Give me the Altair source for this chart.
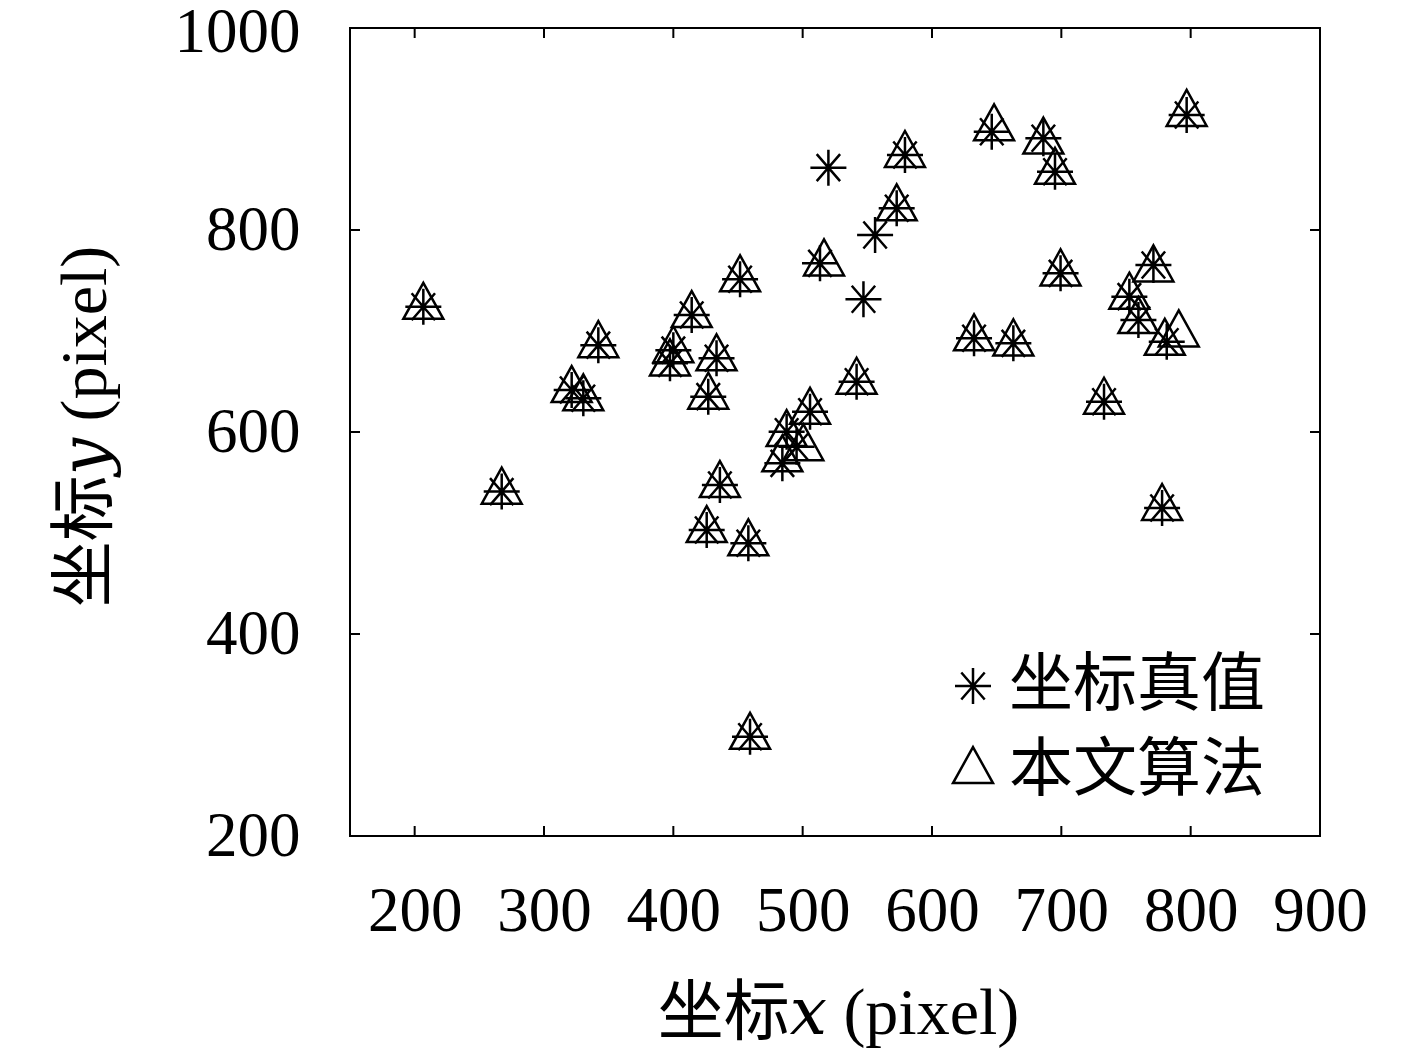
import altair as alt
import pandas as pd

# 坐标真值 (ground truth, star markers)
star_x = [206.7, 267.3, 321.4, 330.4, 342.0, 397.4, 400.0, 414.2, 433.4, 427.0,
          451.6, 436.0, 425.8, 458.0, 459.3, 519.9, 513.4, 556.0, 547.0, 572.7,
          579.1, 541.7, 505.7, 487.6, 495.3, 484.3, 646.2, 686.1, 695.1, 796.9,
          699.4, 771.2, 752.6, 759.6, 781.5, 632.5, 662.9, 733.0, 777.9]
star_y = [724.0, 541.0, 641.6, 633.4, 686.0, 668.0, 681.0, 715.8, 673.0, 635.0,
          751.2, 547.5, 503.0, 489.8, 298.3, 861.7, 767.0, 795.0, 731.4, 821.5,
          874.3, 649.8, 620.0, 600.3, 585.4, 569.0, 897.3, 890.8, 857.7, 913.9,
          757.1, 765.3, 734.0, 710.9, 689.4, 692.8, 687.8, 630.0, 524.8]

# 本文算法 (proposed algorithm, triangle markers)
tri_x = [206.7, 267.3, 321.4, 330.4, 342.0, 397.4, 400.0, 414.2, 433.4, 427.0,
         451.6, 436.0, 425.8, 458.0, 459.3, 516.5, 572.7, 579.1, 541.7, 505.7,
         487.6, 500.5, 484.3, 648.0, 686.1, 695.1, 796.9, 699.4, 771.2, 752.6,
         759.6, 780.0, 790.8, 632.5, 662.9, 733.0, 777.9]
tri_y = [724.0, 541.0, 641.6, 633.4, 686.0, 668.0, 681.0, 715.8, 673.0, 635.0,
         751.2, 547.5, 503.0, 489.8, 298.3, 767.0, 821.5, 874.3, 649.8, 620.0,
         598.0, 584.0, 573.0, 900.7, 887.6, 857.7, 915.0, 757.1, 761.0, 734.0,
         709.9, 688.4, 696.7, 692.8, 687.8, 630.0, 524.8]

series_names = ["坐标真值", "本文算法"]
x_ticks = [200, 300, 400, 500, 600, 700, 800, 900]
y_ticks = [200, 400, 600, 800, 1000]
x_domain = [150, 900]
y_domain = [200, 1000]

W, H = 970, 808
TICK = 10

STAR = "M0,-1L0,1M-1,0L1,0M-0.65,-0.75L0.65,0.75M-0.65,0.75L0.65,-0.75"
TRI = "M0,-1.33L1.11,0.67L-1.11,0.67Z"

pts = pd.concat([
    pd.DataFrame({"x": star_x, "y": star_y, "s": series_names[0]}),
    pd.DataFrame({"x": tri_x, "y": tri_y, "s": series_names[1]}),
], ignore_index=True)

NUM_FONT = "Liberation Serif"
TITLE_FONT = "Liberation Serif, DejaVu Serif, Noto Sans CJK SC"
FS = 63

xs = alt.Scale(domain=x_domain, nice=False, zero=False)
ys = alt.Scale(domain=y_domain, nice=False, zero=False)

points = alt.Chart(pts).mark_point(filled=False, strokeWidth=2.5, color="black", opacity=1, size=1296).encode(
    x=alt.X("x:Q", scale=xs, axis=alt.Axis(
        values=x_ticks, format="d", grid=False, domain=False, ticks=False, tickSize=0,
        labelFont=NUM_FONT, labelFontSize=FS, labelColor="black", labelPadding=44,
        labelFlush=False, labelOverlap=False,
        title="坐标𝑥 (pixel)", titleFont=TITLE_FONT, titleFontSize=66, titleFontWeight="normal",
        titleColor="black", titleX=488, titleY=177, titleBaseline="middle", titleAlign="center")),
    y=alt.Y("y:Q", scale=ys, axis=alt.Axis(
        values=y_ticks, format="d", grid=False, domain=False, ticks=False, tickSize=0,
        labelFont=NUM_FONT, labelFontSize=FS, labelColor="black", labelPadding=50,
        labelOffset={"condition": {"test": "datum.value == 1000", "value": 4}, "value": 0},
        labelFlush=False, labelOverlap=False,
        title="坐标𝑦 (pixel)", titleFont=TITLE_FONT, titleFontSize=66, titleFontWeight="normal",
        titleColor="black", titleX=-265, titleY=398, titleAngle=-90,
        titleBaseline="middle", titleAlign="center")),
    shape=alt.Shape("s:N", scale=alt.Scale(domain=series_names, range=[STAR, TRI]),
                    legend=alt.Legend(orient="none", legendX=591, legendY=626, title=None,
                                      labelFont="Noto Sans CJK SC", labelFontSize=64,
                                      labelColor="black", labelLimit=0, symbolSize=1296,
                                      symbolStrokeWidth=2.5, symbolStrokeColor="black",
                                      symbolFillColor="transparent", rowPadding=21,
                                      labelOffset=4, padding=0)),
)

xt = pd.DataFrame({"v": x_ticks})
yt = pd.DataFrame({"v": y_ticks})

rule_kw = dict(color="black", strokeWidth=2)
bottom = alt.Chart(xt).mark_rule(**rule_kw).encode(
    x=alt.X("v:Q", scale=xs), y=alt.value(H), y2=alt.value(H - TICK))
top = alt.Chart(xt).mark_rule(**rule_kw).encode(
    x=alt.X("v:Q", scale=xs), y=alt.value(0), y2=alt.value(TICK))
left = alt.Chart(yt).mark_rule(**rule_kw).encode(
    y=alt.Y("v:Q", scale=ys), x=alt.value(0), x2=alt.value(TICK))
right = alt.Chart(yt).mark_rule(**rule_kw).encode(
    y=alt.Y("v:Q", scale=ys), x=alt.value(W), x2=alt.value(W - TICK))

chart = alt.layer(points, bottom, top, left, right).properties(
    width=W, height=H,
    autosize=alt.AutoSizeParams(type="none"),
    padding={"left": 342, "top": 20, "right": 89, "bottom": 212},
    background="white",
).configure_view(stroke="black", strokeWidth=2)

chart.save("out.html", embed_options={"renderer": "svg", "actions": False})
